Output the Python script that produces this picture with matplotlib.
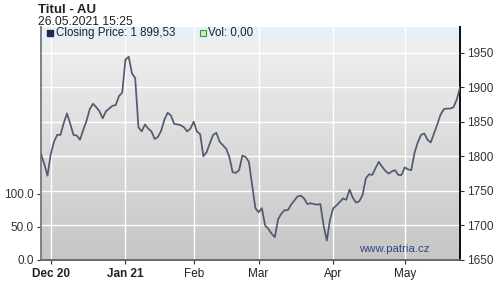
import numpy as np
import pandas as pd
import matplotlib
matplotlib.use("Agg")
import matplotlib.pyplot as plt
from matplotlib.patches import Rectangle

plt.rcParams['font.family'] = ['Liberation Sans', 'DejaVu Sans']

# gold (AU) closing prices, one per business day 26.11.2020 - 26.05.2021
dates = pd.bdate_range("2020-11-26", "2021-05-26")
prices = [
    1803, 1789, 1772, 1803, 1821, 1831, 1831, 1848, 1862, 1847,
    1831, 1830, 1824, 1838, 1851, 1868, 1876, 1871, 1865, 1855,
    1865, 1869, 1873, 1874, 1887, 1892, 1940, 1944, 1920, 1913,
    1842, 1836, 1846, 1840, 1836, 1825, 1828, 1837, 1853, 1863,
    1859, 1847, 1846, 1845, 1842, 1836, 1840, 1850, 1836, 1832,
    1800, 1806, 1819, 1831, 1834, 1821, 1816, 1811, 1799, 1777,
    1776, 1780, 1801, 1799, 1792, 1758, 1725, 1719, 1725, 1700,
    1695, 1688, 1683, 1709, 1717, 1722, 1722, 1730, 1736, 1742,
    1743, 1739, 1731, 1732, 1731, 1730, 1731, 1700, 1678, 1709,
    1725, 1729, 1734, 1739, 1737, 1752, 1740, 1733, 1735, 1744,
    1768, 1774, 1773, 1783, 1792, 1785, 1779, 1775, 1778, 1780,
    1773, 1773, 1784, 1781, 1780, 1805, 1820, 1831, 1833, 1824,
    1820, 1833, 1846, 1860, 1868, 1869, 1869, 1871, 1882, 1899.53,
]
month_labels = ["Dec 20", "Jan 21", "Feb", "Mar", "Apr", "May"]
price_ticks = [1650, 1700, 1750, 1800, 1850, 1900, 1950]
vol_ticks = [0, 50, 100]

n = len(prices)
x = np.arange(n)
months = dates[:n].to_period("M")
tick_pos = [i for i in range(1, n) if months[i] != months[i - 1]]

fig = plt.figure(figsize=(5.0, 2.97), dpi=100)
ax = fig.add_axes([0.082, 0.1246, 0.838, 0.7845])

# grey gradient background
grad = np.linspace(0, 1, 256).reshape(-1, 1)
ax.imshow(grad, extent=[0, 1, 0, 1], transform=ax.transAxes, aspect='auto',
          cmap=matplotlib.colors.LinearSegmentedColormap.from_list(
              "bg", ["#c6c6c6", "#f2f2f2"]), origin='lower', zorder=0)
# light blue legend band at the top
ax.add_patch(Rectangle((0, 0.944), 1, 0.056, transform=ax.transAxes,
                       facecolor="#e6f0f9", edgecolor="none", zorder=1))

ax.set_xlim(0, n - 1)
ax.set_ylim(0, 353)
ax.set_yticks(vol_ticks)
ax.set_yticklabels(["%.1f" % v for v in vol_ticks])
ax.set_xticks(tick_pos)
ax.set_xticklabels(month_labels)
for lbl in ax.get_xticklabels()[:2]:
    lbl.set_fontweight("bold")
ax.xaxis.grid(True, color="white", linewidth=1.0, zorder=1)
ax.tick_params(axis="both", labelsize=8.5, colors="#333333", length=3,
               width=0.8, pad=2)
ax.tick_params(axis="x", labelcolor="#222222", pad=3)

ax2 = ax.twinx()
ax2.plot(x, prices, color="#505b70", linewidth=1.25, zorder=3)
ax2.set_ylim(1650, 1987)
ax2.set_yticks(price_ticks)
ax2.yaxis.grid(True, color="white", linewidth=1.0)
ax2.set_axisbelow(True)
ax2.tick_params(axis="y", labelsize=8.5, colors="#333333", length=3,
                width=0.8, pad=2)

for a in (ax, ax2):
    a.spines["top"].set_visible(False)
    a.spines["left"].set_color("#808080")
    a.spines["left"].set_linewidth(1.2)
    a.spines["bottom"].set_color("#666666")
    a.spines["bottom"].set_linewidth(1.2)
    a.spines["right"].set_color("#111111")
    a.spines["right"].set_linewidth(1.4)

ax2.text(0.928, 0.048, "www.patria.cz", transform=ax2.transAxes,
         ha="right", va="center", fontsize=8.2, color="#34448a", zorder=4)

# header
fig.text(0.076, 0.968, "Titul - AU", fontsize=9.5, fontweight="bold",
         ha="left", va="center", color="#222222")
fig.text(0.076, 0.925, "26.05.2021 15:25", fontsize=8.8,
         ha="left", va="center", color="#222222")

# legend
fig.add_artist(Rectangle((0.093, 0.878), 0.013, 0.022, transform=fig.transFigure,
                         facecolor="#1a2a4a", edgecolor="#1a2a4a"))
fig.text(0.112, 0.889, "Closing Price: 1 899,53", fontsize=8.3,
         ha="left", va="center", color="#222222")
fig.add_artist(Rectangle((0.399, 0.878), 0.012, 0.022, transform=fig.transFigure,
                         facecolor="#c8f0c0", edgecolor="#3a9a3a", linewidth=0.8))
fig.text(0.416, 0.889, "Vol: 0,00", fontsize=8.3,
         ha="left", va="center", color="#222222")

fig.savefig("out.png", dpi=100)
